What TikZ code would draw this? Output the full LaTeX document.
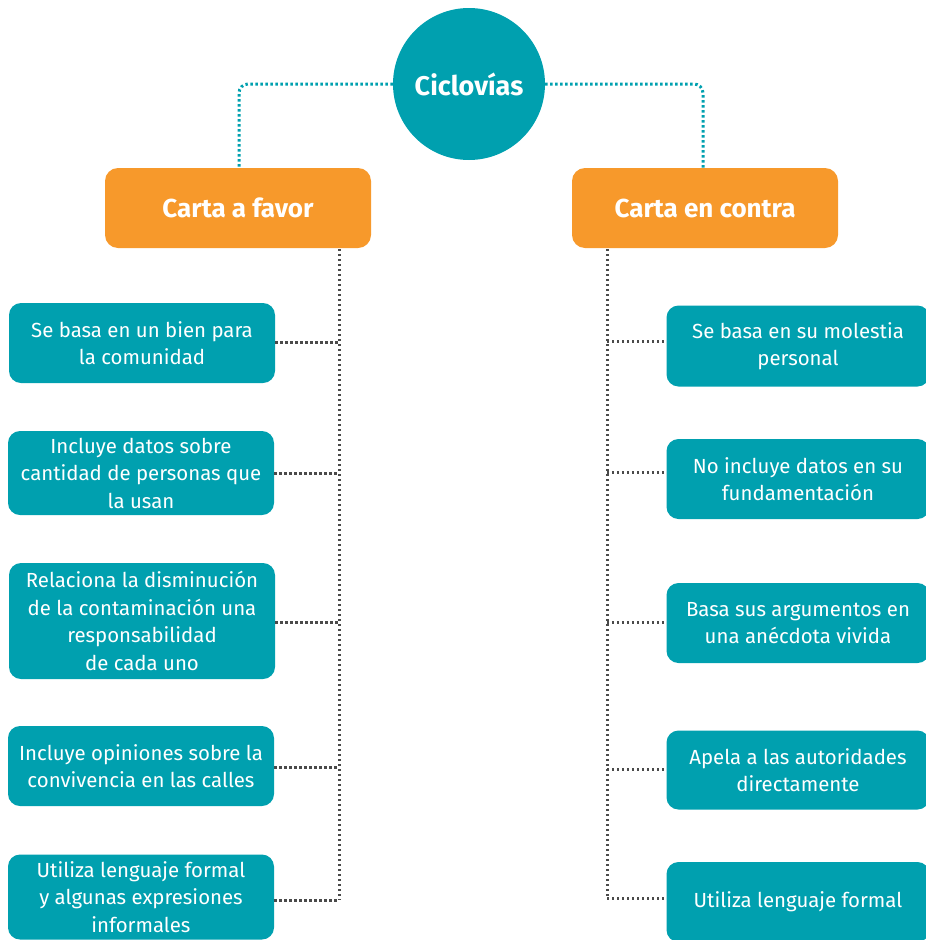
\documentclass[tikz,border=0pt]{standalone}
\usepackage{fontspec}
\setmainfont{Fira Sans}
\definecolor{tealc}{HTML}{00A0AF}
\definecolor{orangec}{HTML}{F7992B}
\definecolor{dotgray}{HTML}{4A4A4A}
\begin{document}
\begin{tikzpicture}[x=1pt,y=-1pt,
 tbox/.style={fill=tealc, rounded corners=12pt, text=white, align=center,
   font=\fontsize{20.4}{27.5}\selectfont, inner sep=0pt, minimum width=266pt},
 rbox/.style={tbox, minimum width=263pt},
 obox/.style={fill=orangec, rounded corners=13pt, text=white,
   font=\fontsize{26}{30}\selectfont\bfseries, minimum width=266pt, minimum height=80pt, inner sep=0pt},
 hub/.style={circle, fill=tealc, text=white, minimum size=152pt, inner sep=0pt,
   font=\fontsize{27}{30}\selectfont\bfseries},
 tdot/.style={draw=tealc, line width=3pt, dash pattern=on 2.4pt off 2.6pt, rounded corners=9pt},
 gdot/.style={draw=dotgray, line width=3pt, dash pattern=on 2.4pt off 2.6pt}]
\useasboundingbox (0,0) rectangle (926,940);
\clip (0,0) rectangle (926,940);

% hub and branch titles
\node[hub] (hub) at (469,84) {Ciclovías};
\node[obox] (fav) at (238,208) {Carta a favor};
\node[obox] (con) at (705,208) {Carta en contra};

\coordinate (favtop) at (239,168);
\coordinate (contop) at (703,168);
\draw[tdot] (hub.west) -| (favtop);
\draw[tdot] (hub.east) -| (contop);

% left boxes
\node[tbox, minimum height=80pt] (l1) at (142,343) {Se basa en un bien para\\la comunidad};
\node[tbox, minimum height=84pt] (l2) at (141,473) {Incluye datos sobre\\cantidad de personas que\\la usan};
\node[tbox, minimum height=116pt] (l3) at (142,621) {Relaciona la disminución\\de la contaminación una\\responsabilidad\\de cada uno};
\node[tbox, minimum height=80pt] (l4) at (141,766) {Incluye opiniones sobre la\\convivencia en las calles};
\node[tbox, minimum height=85pt] (l5) at (141,897) {Utiliza lenguaje formal\\y algunas expresiones\\informales};

% right boxes
\node[rbox, minimum height=81pt] (r1) at (798,346) {Se basa en su molestia\\personal};
\node[rbox, minimum height=80pt] (r2) at (798,479) {No incluye datos en su\\fundamentación};
\node[rbox, minimum height=80pt] (r3) at (798,623) {Basa sus argumentos en\\una anécdota vivida};
\node[rbox, minimum height=79pt] (r4) at (798,770) {Apela a las autoridades\\directamente};
\node[rbox, minimum height=80pt] (r5) at (798,902) {Utiliza lenguaje formal};

% left spine
\coordinate (ltop) at (339,249);
\coordinate (lbot) at (339,900);
\draw[gdot] (ltop) -- (lbot);
\draw[gdot] (l1.east |- 0,342) -- (339,342);
\draw[gdot] (l2.east |- 0,473) -- (339,473);
\draw[gdot] (l3.east |- 0,622) -- (339,622);
\draw[gdot] (l4.east |- 0,767) -- (339,767);
\draw[gdot] (l5.east |- 0,900) -- (lbot);

% right spine
\coordinate (rtop) at (607,249);
\coordinate (rbot) at (607,898);
\draw[gdot] (rtop) -- (rbot);
\draw[gdot] (607,341) -- (r1.west |- 0,341);
\draw[gdot] (607,472) -- (r2.west |- 0,472);
\draw[gdot] (607,622) -- (r3.west |- 0,622);
\draw[gdot] (607,769) -- (r4.west |- 0,769);
\draw[gdot] (rbot) -- (r5.west |- 0,898);
\end{tikzpicture}
\end{document}
